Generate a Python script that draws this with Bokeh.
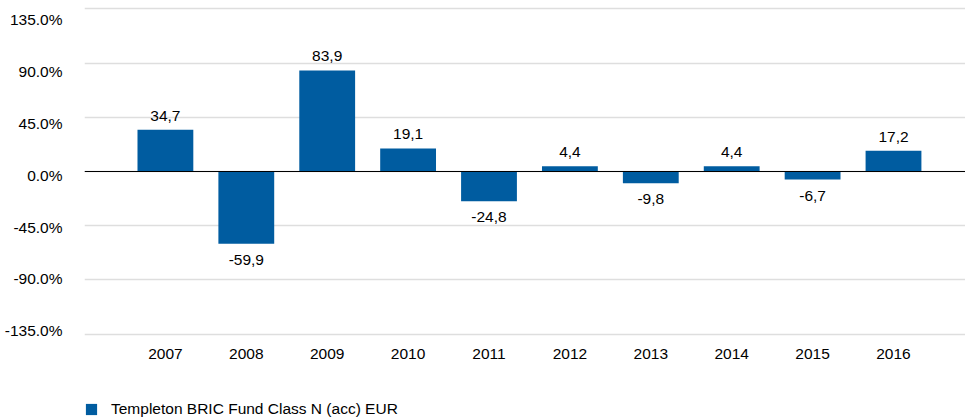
from bokeh.plotting import figure
from bokeh.layouts import column
from bokeh.models import (ColumnDataSource, Range1d, FixedTicker, PrintfTickFormatter,
                          Span, Legend, LegendItem)
from bokeh.embed import file_html
from bokeh.resources import INLINE
from bokeh.core.properties import value

# ---- data ----
years = ["2007", "2008", "2009", "2010", "2011", "2012", "2013", "2014", "2015", "2016"]
returns = [34.7, -59.9, 83.9, 19.1, -24.8, 4.4, -9.8, 4.4, -6.7, 17.2]
y_ticks = [-135, -90, -45, 0, 45, 90, 135]
series_name = "Templeton BRIC Fund Class N (acc) EUR"

FONT = "Liberation Sans"
FS = "15.5px"
BAR = "#005CA0"
TXT = "#000000"

idx = list(range(len(years)))
labels = [f"{v:.1f}".replace(".", ",") for v in returns]
offsets = [-14 if v >= 0 else 16 for v in returns]

src = ColumnDataSource(dict(x=idx, top=returns, label=labels, yoff=offsets))

p = figure(width=965, height=370, output_backend="svg", toolbar_location=None,
           x_range=Range1d(-1.0, 9.89), y_range=Range1d(-137, 137),
           min_border_left=84, min_border_right=0, min_border_top=6, min_border_bottom=34)
# the reference squeezes its tick labels slightly inside the gridline span
p.extra_y_ranges = {"labels": Range1d(-139.9, 146.1)}
p.outline_line_color = None
p.background_fill_color = "white"
p.border_fill_color = "white"

r = p.vbar(x="x", top="top", bottom=0, width=0.69, source=src,
           fill_color=BAR, line_color=None)

p.text(x="x", y="top", text="label", y_offset="yoff", source=src,
       text_align="center", text_baseline="middle",
       text_font=value(FONT), text_font_size=FS, text_color=TXT)

p.add_layout(Span(location=0, dimension="width", line_color="black", line_width=1.2))

# axes
p.xaxis.ticker = FixedTicker(ticks=idx)
p.xaxis.major_label_overrides = {i: y for i, y in zip(idx, years)}
p.xaxis.axis_line_color = None
p.xaxis.major_tick_line_color = None
p.xaxis.minor_tick_line_color = None
p.xaxis.major_label_standoff = 6
p.xaxis.major_label_text_font = FONT
p.xaxis.major_label_text_font_size = FS
p.xaxis.major_label_text_color = TXT

p.yaxis.y_range_name = "labels"
p.yaxis.ticker = FixedTicker(ticks=y_ticks)
p.yaxis.formatter = PrintfTickFormatter(format="%.1f%%")
p.yaxis.axis_line_color = None
p.yaxis.major_tick_line_color = None
p.yaxis.minor_tick_line_color = None
p.yaxis.major_label_standoff = 16
p.yaxis.major_label_text_font = FONT
p.yaxis.major_label_text_font_size = FS
p.yaxis.major_label_text_color = TXT

p.xgrid.grid_line_color = None
p.ygrid.ticker = FixedTicker(ticks=y_ticks)
p.ygrid.grid_line_color = "#dedede"
p.ygrid.grid_line_width = 1.5

# ---- legend strip (same series, range set above the data so only the legend shows) ----
lg = figure(width=965, height=48, output_backend="svg", toolbar_location=None,
            x_range=Range1d(-1.0, 9.89), y_range=Range1d(1000, 1001),
            x_axis_type=None, y_axis_type=None,
            min_border_left=0, min_border_right=0, min_border_top=0, min_border_bottom=0)
lg.outline_line_color = None
lg.grid.visible = False
lg.background_fill_color = "white"
lg.border_fill_color = "white"
lr = lg.vbar(x="x", top="top", bottom=0, width=0.69, source=src,
             fill_color=BAR, line_color=None)

legend = Legend(items=[LegendItem(label=series_name, renderers=[lr])],
                location="bottom_left", orientation="horizontal",
                padding=0, margin=0, spacing=0,
                glyph_width=14, glyph_height=14, label_height=14,
                label_standoff=13, border_line_color=None,
                background_fill_alpha=0,
                label_text_font=FONT, label_text_font_size=FS,
                label_text_color=TXT)
lg.add_layout(legend)

layout = column(p, lg, spacing=0)
open("out.html", "w").write(file_html(layout, INLINE))
